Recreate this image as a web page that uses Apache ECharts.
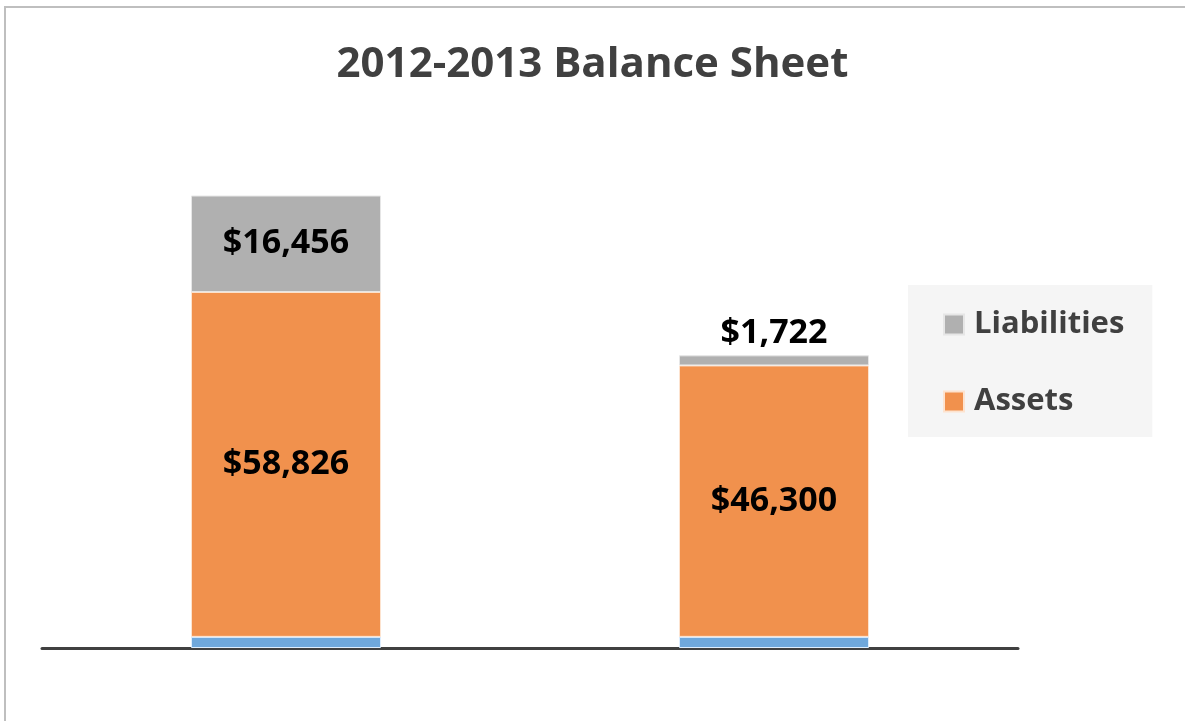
<!DOCTYPE html>
<html>
<head>
<meta charset="utf-8">
<script src="https://cdn.jsdelivr.net/npm/echarts@6/dist/echarts.min.js"></script>
<style>
  html, body { margin: 0; padding: 0; background: #fff; }
  #chart { width: 1185px; height: 721px; }
</style>
</head>
<body>
<div id="chart"></div>
<script>
// data
var years = ['2012', '2013'];
var baseValues = [1900, 1900];          // thin blue strip at the bottom
var assetValues = [58826, 46300];
var liabilityValues = [16456, 1722];

var myChart = echarts.init(document.getElementById('chart'));

function money(p) {
  return '$' + p.value.toLocaleString('en-US');
}

var labelFont = {
  show: true,
  fontFamily: 'Open Sans',
  fontWeight: 'bold',
  fontSize: 34,
  color: '#000',
  formatter: money
};

var option = {
  animation: false,
  title: {
    text: '2012-2013 Balance Sheet',
    left: 'center',
    top: 39,
    textStyle: { fontFamily: 'Open Sans', fontWeight: 'bold', fontSize: 42, color: '#404040' }
  },
  legend: {
    data: ['Liabilities', 'Assets'],
    orient: 'vertical',
    left: 908,
    top: 285,
    padding: [24, 28, 20, 35],
    itemGap: 46,
    itemWidth: 20,
    itemHeight: 20,
    backgroundColor: '#f5f5f5',
    icon: 'rect',
    textStyle: { fontFamily: 'Open Sans', fontWeight: 'bold', fontSize: 31, color: '#404040', padding: [0, 0, 0, 5] }
  },
  grid: { left: 42, right: 167, top: 179, bottom: 73 },
  xAxis: {
    type: 'category',
    data: years,
    axisLine: { lineStyle: { color: '#404040', width: 3 } },
    axisTick: { show: false },
    axisLabel: { show: false }
  },
  yAxis: {
    type: 'value',
    min: 0,
    max: 80000,
    show: false,
    splitLine: { show: false }
  },
  graphic: [
    { type: 'line', shape: { x1: 4, y1: 7, x2: 1185, y2: 7 }, style: { stroke: '#bfbfbf', lineWidth: 2 } },
    { type: 'line', shape: { x1: 5, y1: 6, x2: 5, y2: 721 }, style: { stroke: '#bfbfbf', lineWidth: 2 } }
  ],
  series: [
    {
      name: 'Base',
      type: 'bar',
      stack: 'total',
      barWidth: 190,
      data: baseValues,
      itemStyle: { color: '#6fa8dc', borderColor: '#ddeeff', borderWidth: 1 }
    },
    {
      name: 'Assets',
      type: 'bar',
      stack: 'total',
      data: assetValues,
      itemStyle: { color: '#f1914d', borderColor: '#fde3cf', borderWidth: 1 },
      label: Object.assign({ position: 'inside' }, labelFont)
    },
    {
      name: 'Liabilities',
      type: 'bar',
      stack: 'total',
      data: [
        { value: liabilityValues[0], label: { position: 'inside' } },
        { value: liabilityValues[1], label: { position: 'top', distance: 5 } }
      ],
      itemStyle: { color: '#b0b0b0', borderColor: '#e6e6e6', borderWidth: 1 },
      label: labelFont
    }
  ]
};

myChart.setOption(option);
</script>
</body>
</html>
